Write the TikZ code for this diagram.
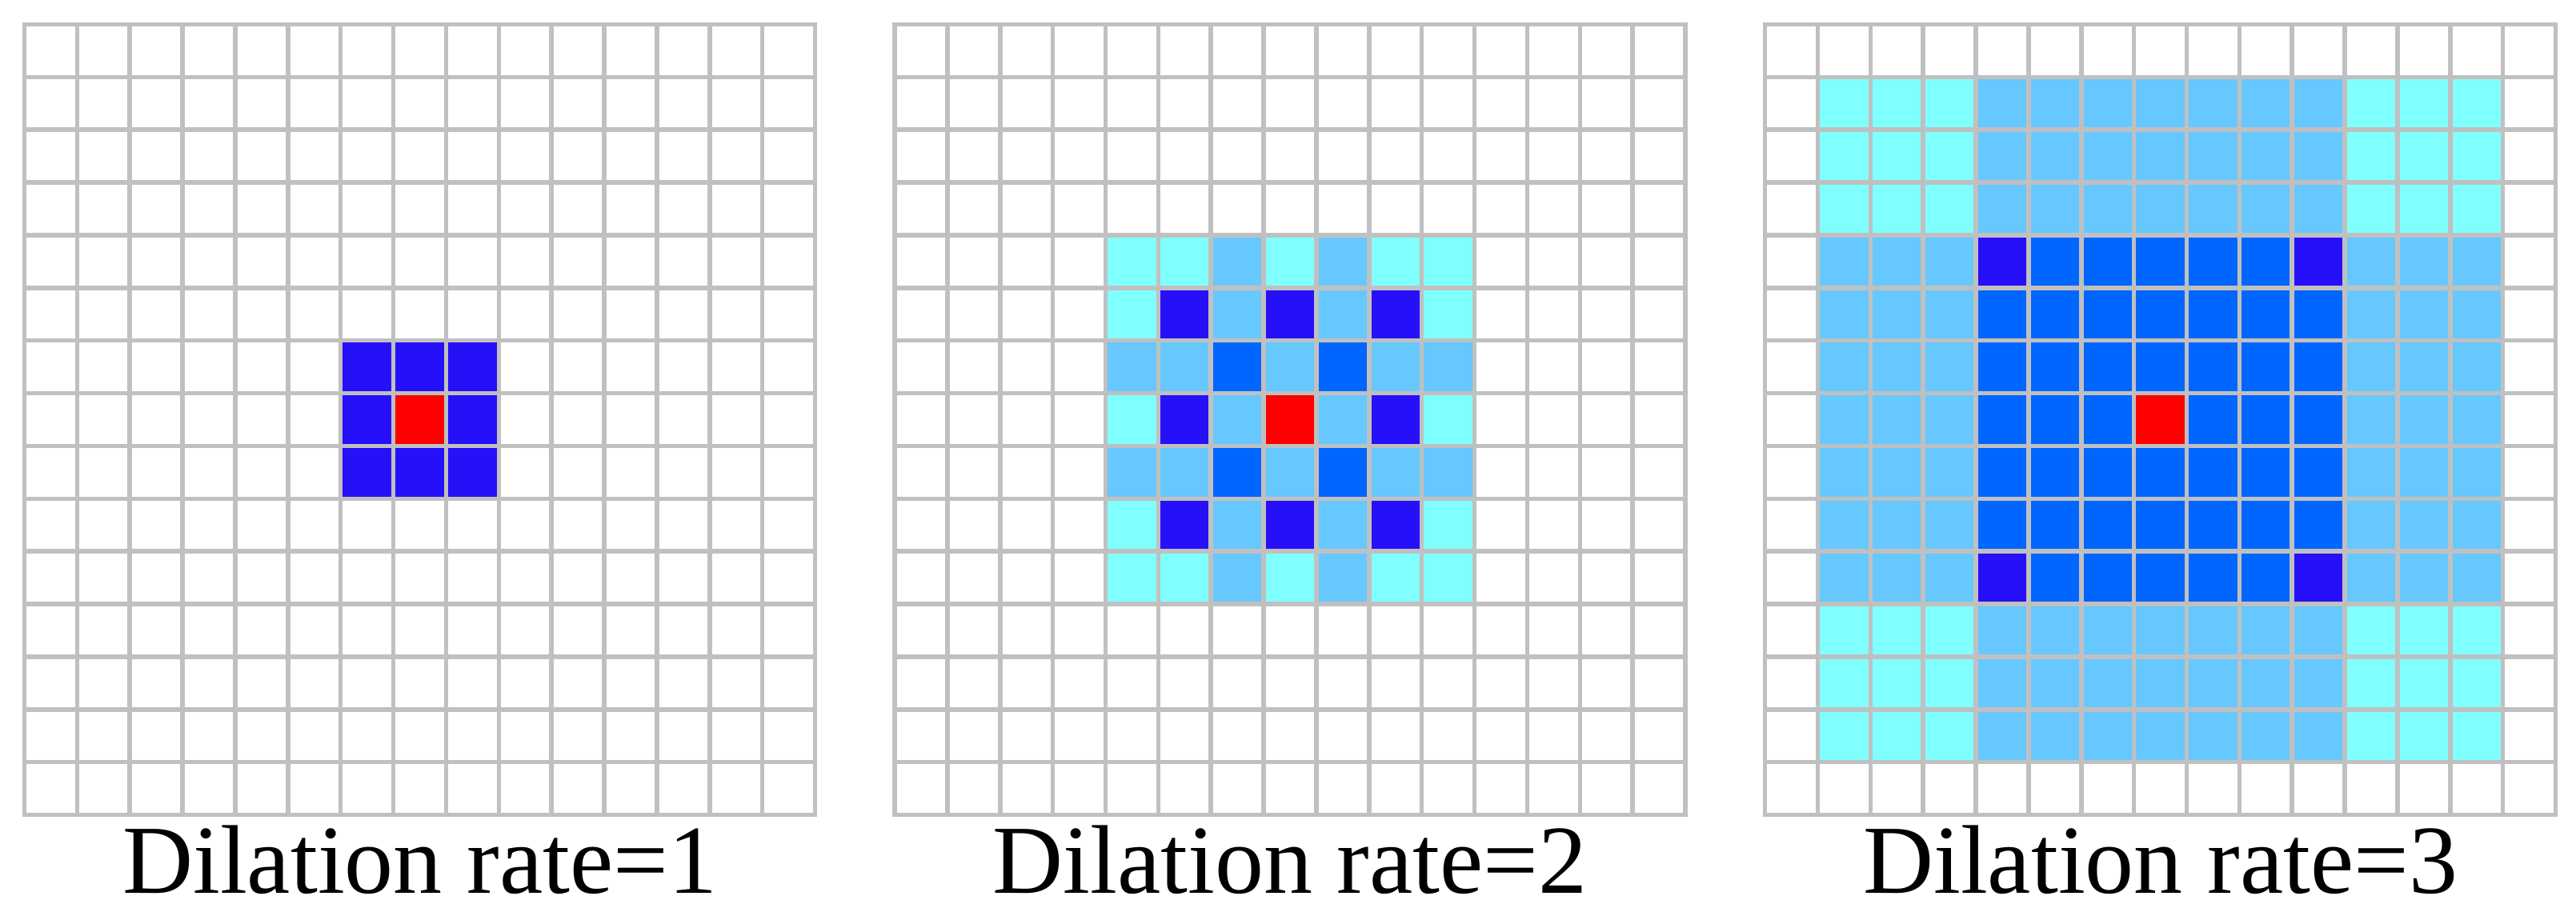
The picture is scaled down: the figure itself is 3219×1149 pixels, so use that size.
\documentclass[tikz,border=0pt]{standalone}
\usepackage{fontspec}
\setmainfont{Liberation Serif}
\definecolor{gridgray}{RGB}{192,192,192}
\definecolor{cyanc}{RGB}{128,255,255}
\definecolor{skyc}{RGB}{102,200,255}
\definecolor{bluec}{RGB}{0,102,255}
\definecolor{darkc}{RGB}{38,16,248}
\definecolor{redc}{RGB}{255,0,0}
\newcommand\cs{65.87}
\newcommand\gtop{30.5}
% \dblock{gx}{col0}{row0}{col1}{row1}{colour}: fill cells col0..col1, row0..row1
\newcommand\dblock[6]{\fill[#6] ({#1+#2*\cs},{\gtop+#3*\cs}) rectangle ({#1+(#4+1)*\cs},{\gtop+(#5+1)*\cs});}
\newcommand\dgrid[1]{%
  \foreach \i in {0,...,15}{%
    \draw[gridline] ({#1+\i*\cs},\gtop) -- ({#1+\i*\cs},{\gtop+15*\cs});
    \draw[gridline] (#1,{\gtop+\i*\cs}) -- ({#1+15*\cs},{\gtop+\i*\cs});
  }}
\begin{document}
\begin{tikzpicture}[x=1pt,y=-1pt,
  gridline/.style={draw=gridgray,line width=5.5pt,line cap=rect},
  caption/.style={anchor=base,inner sep=0pt,font=\fontsize{122}{126}\selectfont}]
\useasboundingbox (0,0) rectangle (3219,1149);
\fill[white] (0,0) rectangle (3219,1149);
% ---------- grid 1 ----------
\def\ga{30.5}
\dblock{\ga}{6}{6}{8}{8}{darkc}
\dblock{\ga}{7}{7}{7}{7}{redc}
\dgrid{\ga}
% ---------- grid 2 ----------
\def\gb{1118}
\dblock{\gb}{4}{4}{10}{10}{cyanc}
\dblock{\gb}{6}{4}{6}{10}{skyc}
\dblock{\gb}{8}{4}{8}{10}{skyc}
\dblock{\gb}{4}{6}{10}{6}{skyc}
\dblock{\gb}{4}{8}{10}{8}{skyc}
\foreach \cc/\rr in {6/6,8/6,6/8,8/8}{\dblock{\gb}{\cc}{\rr}{\cc}{\rr}{bluec}}
\foreach \cc/\rr in {5/5,7/5,9/5,5/7,9/7,5/9,7/9,9/9}{\dblock{\gb}{\cc}{\rr}{\cc}{\rr}{darkc}}
\dblock{\gb}{7}{7}{7}{7}{redc}
\dgrid{\gb}
% ---------- grid 3 ----------
\def\gc{2205.5}
\dblock{\gc}{1}{1}{13}{13}{skyc}
\dblock{\gc}{1}{1}{3}{3}{cyanc}
\dblock{\gc}{11}{1}{13}{3}{cyanc}
\dblock{\gc}{1}{11}{3}{13}{cyanc}
\dblock{\gc}{11}{11}{13}{13}{cyanc}
\dblock{\gc}{4}{4}{10}{10}{bluec}
\foreach \cc/\rr in {4/4,10/4,4/10,10/10}{\dblock{\gc}{\cc}{\rr}{\cc}{\rr}{darkc}}
\dblock{\gc}{7}{7}{7}{7}{redc}
\dgrid{\gc}
% ---------- captions ----------
\node[caption] (cap1) at ({\ga+7.5*\cs},1116) {Dilation rate=1};
\node[caption] (cap2) at ({\gb+7.5*\cs},1116) {Dilation rate=2};
\node[caption] (cap3) at ({\gc+7.5*\cs},1116) {Dilation rate=3};
\end{tikzpicture}
\end{document}
